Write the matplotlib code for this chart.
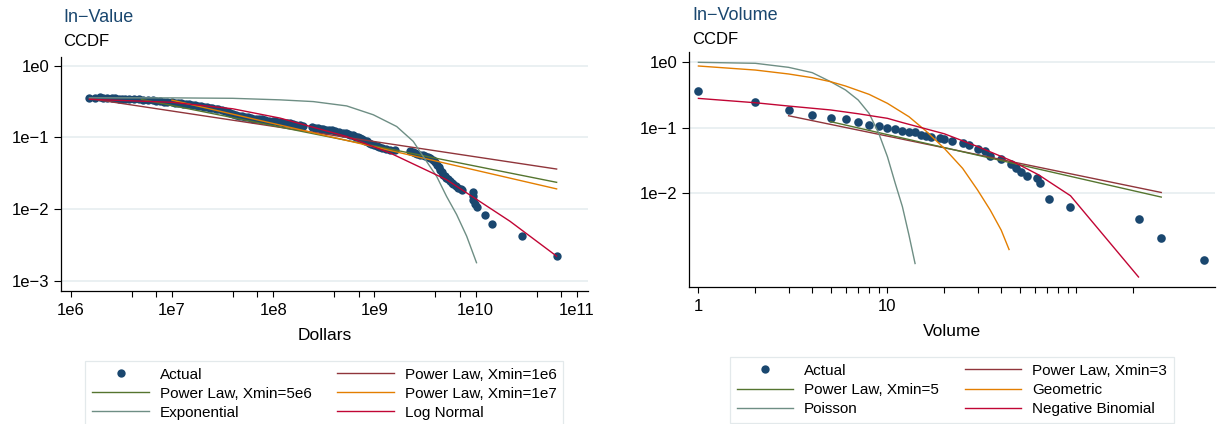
import matplotlib
matplotlib.use("Agg")
import matplotlib.pyplot as plt
from matplotlib.lines import Line2D
from matplotlib.ticker import NullLocator

plt.rcParams['font.family'] = ['Liberation Sans', 'DejaVu Sans']

NAVY = '#1a476f'
MAROON = '#90353b'
GREEN = '#55752f'
ORANGE = '#e37e00'
TEAL = '#6e8e84'
CRANBERRY = '#c10534'
GRID = '#e6eef0'

# ---- In-Value (dollars) ----
value_x = [1.53e6, 1.75e6, 1.94e6, 2.1e6, 2.3e6, 2.53e6, 2.75e6, 3.0e6, 3.2e6, 3.45e6,
           3.77e6, 4.2e6, 4.7e6, 5.2e6, 5.86e6, 6.5e6, 7.0e6, 7.64e6, 8.3e6, 9.0e6,
           1.0e7, 1.08e7, 1.15e7, 1.22e7, 1.30e7, 1.39e7, 1.48e7, 1.58e7, 1.69e7, 1.82e7,
           1.95e7, 2.08e7, 2.21e7, 2.35e7, 2.51e7, 2.70e7, 2.88e7, 3.1e7, 3.31e7, 3.55e7,
           3.76e7, 4.0e7, 4.27e7, 4.6e7, 4.90e7, 5.25e7, 5.62e7, 6.0e7, 6.38e7, 6.8e7,
           7.24e7, 7.8e7, 8.32e7, 9.0e7, 9.93e7, 1.05e8, 1.12e8, 1.2e8, 1.29e8, 1.38e8,
           1.48e8, 1.58e8, 1.69e8, 1.82e8, 1.95e8, 2.4e8, 2.58e8, 2.75e8, 2.95e8, 3.13e8,
           3.35e8, 3.55e8, 3.8e8, 4.08e8, 4.45e8, 4.88e8, 5.2e8, 5.5e8, 5.8e8, 6.08e8,
           6.3e8, 6.6e8, 6.9e8, 7.19e8, 7.5e8, 7.76e8, 8.1e8, 8.38e8, 8.8e8, 9.33e8,
           9.9e8, 1.05e9, 1.12e9, 1.20e9, 1.30e9, 1.43e9, 1.6e9, 2.24e9, 2.38e9, 2.51e9,
           2.65e9, 2.82e9, 3.0e9, 3.16e9, 3.35e9, 3.55e9, 3.80e9, 3.98e9, 4.12e9, 4.3e9,
           4.47e9, 4.63e9, 4.79e9, 4.95e9, 5.13e9, 5.35e9, 5.57e9, 5.8e9, 6.03e9, 6.4e9,
           6.73e9, 7.1e9, 7.41e9, 9.33e9, 9.4e9, 9.46e9, 9.9e9, 1.04e10, 1.23e10, 1.44e10,
           2.85e10, 6.31e10]
value_y = [0.360, 0.358, 0.362, 0.358, 0.355, 0.353, 0.350, 0.348, 0.346, 0.343,
           0.340, 0.338, 0.338, 0.337, 0.335, 0.330, 0.326, 0.321, 0.316, 0.314,
           0.310, 0.305, 0.302, 0.298, 0.294, 0.291, 0.288, 0.284, 0.279, 0.276,
           0.272, 0.268, 0.265, 0.261, 0.257, 0.251, 0.246, 0.240, 0.234, 0.226,
           0.219, 0.213, 0.207, 0.201, 0.197, 0.194, 0.191, 0.187, 0.183, 0.181,
           0.180, 0.178, 0.176, 0.172, 0.169, 0.168, 0.166, 0.163, 0.161, 0.159,
           0.157, 0.154, 0.151, 0.149, 0.146, 0.140, 0.137, 0.135, 0.132, 0.130,
           0.128, 0.127, 0.125, 0.123, 0.120, 0.117, 0.114, 0.112, 0.109, 0.107,
           0.104, 0.102, 0.100, 0.098, 0.0955, 0.0933, 0.0905, 0.088, 0.0845, 0.0813,
           0.078, 0.075, 0.073, 0.0708, 0.069, 0.0675, 0.067, 0.064, 0.0625, 0.061,
           0.059, 0.0575, 0.0562, 0.055, 0.0535, 0.0519, 0.049, 0.0457, 0.0418, 0.0385,
           0.0355, 0.033, 0.0303, 0.029, 0.0275, 0.026, 0.0245, 0.0234, 0.0224, 0.021,
           0.0198, 0.0192, 0.0186, 0.0172, 0.0155, 0.0136, 0.012, 0.0108, 0.00843, 0.00632,
           0.0042, 0.0022]

pl_1e6_x = [1.53e6, 6.31e10]
pl_1e6_y = [0.348, 0.0363]
pl_5e6_x = [5.0e6, 6.31e10]
pl_5e6_y = [0.339, 0.0237]
pl_1e7_x = [1.0e7, 6.31e10]
pl_1e7_y = [0.331, 0.0192]
expo_x = [1.53e6, 1.0e7, 3.98e7, 1.17e8, 2.49e8, 5.32e8, 9.75e8, 1.66e9, 2.42e9, 3.03e9,
          4.12e9, 5.16e9, 6.49e9, 8.15e9, 1.02e10]
expo_y = [0.356, 0.356, 0.351, 0.334, 0.316, 0.275, 0.207, 0.142, 0.0881, 0.0545,
          0.0287, 0.0151, 0.00843, 0.00422, 0.0018]
lognorm_x = [1.53e6, 1.0e7, 3.98e7, 1.17e8, 5.32e8, 1.43e9, 5.16e9, 2.18e10, 6.31e10]
lognorm_y = [0.340, 0.309, 0.251, 0.186, 0.103, 0.0607, 0.0258, 0.00681, 0.00222]

value_xticks = [1e6, 1e7, 1e8, 1e9, 1e10, 1e11]
value_xlabels = ['1e6', '1e7', '1e8', '1e9', '1e10', '1e11']
value_xminor = [4e6, 7e6, 4e7, 7e7, 4e8, 7e8, 4e9, 7e9, 4e10, 7e10]
value_yticks = [1, 1e-1, 1e-2, 1e-3]
value_ylabels = ['1e0', '1e\u22121', '1e\u22122', '1e\u22123']

# ---- In-Volume ----
vol_x = [1, 2, 3, 4, 5, 6, 7, 8, 9, 10, 11, 12, 13, 14, 15, 16, 17, 19, 20, 22,
         25, 27, 30, 33, 35, 40, 45, 48, 51, 55, 62, 64, 72, 93, 213, 281, 475]
vol_y = [0.363, 0.247, 0.185, 0.155, 0.141, 0.133, 0.120, 0.109, 0.107, 0.0993,
         0.0948, 0.0902, 0.0871, 0.0851, 0.0776, 0.0741, 0.0708, 0.0692, 0.0676, 0.0635,
         0.0593, 0.0541, 0.0475, 0.0444, 0.0372, 0.0336, 0.0282, 0.0243, 0.0211, 0.0187,
         0.0171, 0.0144, 0.0083, 0.0062, 0.00414, 0.00208, 0.00099]

pl_3_x = [3, 281]
pl_3_y = [0.151, 0.01035]
pl_5_x = [5, 281]
pl_5_y = [0.123, 0.00881]
poisson_x = [1, 2, 3, 4, 5, 6, 7, 8, 9, 10, 11, 12, 13, 14]
poisson_y = [0.977, 0.944, 0.820, 0.681, 0.497, 0.372, 0.262, 0.164, 0.0815, 0.0361,
             0.0142, 0.0063, 0.00233, 0.000865]
geom_x = [1, 2, 3, 4, 5, 6, 8, 10, 13, 16, 20, 25, 30, 35, 40, 44]
geom_y = [0.859, 0.746, 0.650, 0.571, 0.497, 0.427, 0.319, 0.233, 0.146, 0.0885,
          0.0483, 0.0240, 0.01125, 0.00558, 0.00277, 0.00141]
negbin_x = [1, 2, 3, 5, 7, 10, 12, 20, 30, 45, 63, 93, 213]
negbin_y = [0.277, 0.238, 0.212, 0.185, 0.162, 0.138, 0.119, 0.0804, 0.0515, 0.0316,
            0.0192, 0.00923, 0.00054]

vol_xticks = [1, 10]
vol_xlabels = ['1', '10']
vol_xminor = [2, 3, 4, 5, 6, 7, 8, 9, 20, 30, 40, 50, 60, 70, 80, 90, 100, 200]
vol_yticks = [1, 1e-1, 1e-2]
vol_ylabels = ['1e0', '1e\u22121', '1e\u22122']

W, H = 1220, 424
fig = plt.figure(figsize=(W / 100, H / 100), dpi=100)


def box(l, r, t, b):
    return [l / W, 1 - b / H, (r - l) / W, (b - t) / H]


def style(ax):
    ax.set_xscale('log')
    ax.set_yscale('log')
    for s in ['top', 'right']:
        ax.spines[s].set_visible(False)
    for s in ['left', 'bottom']:
        ax.spines[s].set_linewidth(0.9)
    ax.grid(axis='y', which='major', color=GRID, lw=1.2)
    ax.set_axisbelow(True)
    ax.tick_params(axis='x', which='both', length=4, width=0.8, labelsize=12, pad=5)
    ax.tick_params(axis='y', which='both', length=4.8, width=0.8, labelsize=12, pad=3.5)
    ax.yaxis.set_minor_locator(NullLocator())


ax1 = fig.add_axes(box(60.7, 588, 56.7, 290.7))
style(ax1)
ax1.plot(value_x, value_y, 'o', color=NAVY, ms=6, mew=0)
ax1.plot(pl_1e6_x, pl_1e6_y, color=MAROON, lw=1)
ax1.plot(pl_5e6_x, pl_5e6_y, color=GREEN, lw=1)
ax1.plot(pl_1e7_x, pl_1e7_y, color=ORANGE, lw=1)
ax1.plot(expo_x, expo_y, color=TEAL, lw=1)
ax1.plot(lognorm_x, lognorm_y, color=CRANBERRY, lw=1)
ax1.set_xlim(10 ** 5.901, 10 ** 11.11)
ax1.set_ylim(10 ** -3.135, 10 ** 0.125)
ax1.set_xticks(value_xticks, value_xlabels)
ax1.set_xticks(value_xminor, minor=True)
ax1.xaxis.set_minor_formatter(plt.NullFormatter())
ax1.set_yticks(value_yticks, value_ylabels)

ax2 = fig.add_axes(box(688.6, 1215, 52.3, 286.7))
style(ax2)
ax2.plot(vol_x, vol_y, 'o', color=NAVY, ms=6.2, mew=0)
ax2.plot(pl_3_x, pl_3_y, color=MAROON, lw=1)
ax2.plot(pl_5_x, pl_5_y, color=GREEN, lw=1)
ax2.plot(poisson_x, poisson_y, color=TEAL, lw=1)
ax2.plot(geom_x, geom_y, color=ORANGE, lw=1)
ax2.plot(negbin_x, negbin_y, color=CRANBERRY, lw=1)
ax2.set_xlim(10 ** -0.052, 10 ** 2.733)
ax2.set_ylim(10 ** -3.415, 10 ** 0.142)
ax2.set_xticks(vol_xticks, vol_xlabels)
ax2.set_xticks(vol_xminor, minor=True)
ax2.xaxis.set_minor_formatter(plt.NullFormatter())
ax2.set_yticks(vol_yticks, vol_ylabels)

# titles and axis titles
fig.text(63 / W, 1 - 18 / H, 'In\u2212Value', color=NAVY, fontsize=13, va='center')
fig.text(63 / W, 1 - 42 / H, 'CCDF', fontsize=12, va='center')
fig.text(692.5 / W, 1 - 15 / H, 'In\u2212Volume', color=NAVY, fontsize=13, va='center')
fig.text(691.7 / W, 1 - 39 / H, 'CCDF', fontsize=12, va='center')
fig.text(324.4 / W, 1 - 335 / H, 'Dollars', fontsize=12.5, ha='center', va='center')
fig.text(951.8 / W, 1 - 331 / H, 'Volume', fontsize=12.5, ha='center', va='center')


def legend(labels, colors, cx, top):
    handles = [Line2D([], [], marker='o', ls='none', color=NAVY, ms=6, mew=0)]
    handles += [Line2D([], [], color=c, lw=1) for c in colors]
    # two columns filled column-first: reorder so rows read left-right
    order = [0, 2, 4, 1, 3, 5]
    leg = fig.legend([handles[i] for i in order], [labels[i] for i in order],
                     ncol=2, loc='upper center', bbox_to_anchor=(cx / W, 1 - top / H),
                     fontsize=11, handlelength=3.7, handletextpad=0.7, columnspacing=1.7,
                     borderpad=0.45, labelspacing=0.33, fancybox=False, framealpha=1,
                     edgecolor='#e3e9eb')
    leg.get_frame().set_linewidth(0.9)
    return leg


legend(['Actual', 'Power Law, Xmin=1e6', 'Power Law, Xmin=5e6',
        'Power Law, Xmin=1e7', 'Exponential', 'Log Normal'],
       [MAROON, GREEN, ORANGE, TEAL, CRANBERRY], 324.4, 353)
legend(['Actual', 'Power Law, Xmin=3', 'Power Law, Xmin=5',
        'Geometric', 'Poisson', 'Negative Binomial'],
       [MAROON, GREEN, ORANGE, TEAL, CRANBERRY], 951.8, 349.3)

fig.savefig('out.png', dpi=100)
